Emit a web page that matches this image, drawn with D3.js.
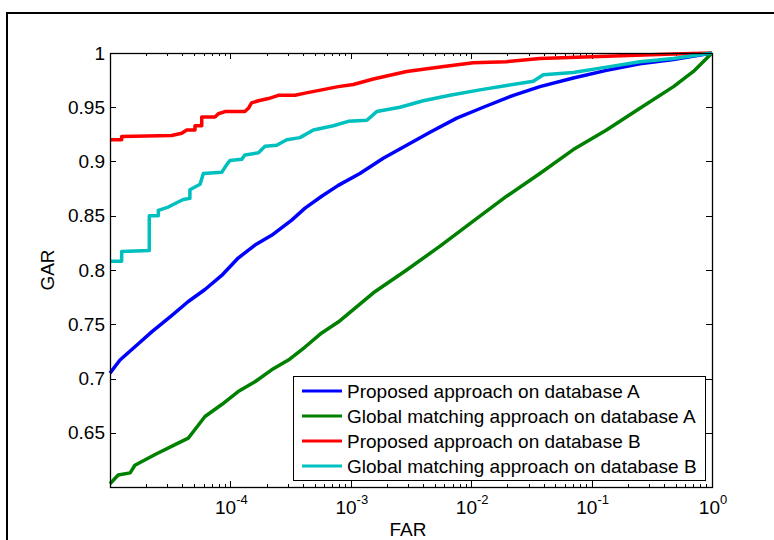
<!DOCTYPE html>
<html>
<head>
<meta charset="utf-8">
<script src="https://cdn.jsdelivr.net/npm/d3@7"></script>
<style>
  body { margin: 0; background: #fff; }
  text { font-family: "Liberation Sans", Arial, sans-serif; fill: #000; }
</style>
</head>
<body>
<div id="roc-plot"></div>
<script>
// FAR / GAR samples
const blueFar = [1e-5, 1.21e-5, 1.72e-5, 2.22e-5, 3.25e-5, 4.47e-5, 6.15e-5, 8.47e-5, 1.16e-4, 1.6e-4, 2.2e-4, 3.23e-4, 4.17e-4, 5.73e-4, 7.87e-4, 1.19e-3, 1.86e-3, 2.91e-3, 4.55e-3, 7.59e-3, 1.26e-2, 2.24e-2, 3.72e-2, 7.05e-2, 0.133, 0.252, 0.479, 1];
const blueGar = [0.705, 0.717, 0.732, 0.743, 0.758, 0.771, 0.782, 0.795, 0.811, 0.823, 0.832, 0.846, 0.857, 0.868, 0.878, 0.889, 0.903, 0.915, 0.927, 0.940, 0.950, 0.961, 0.969, 0.977, 0.984, 0.990, 0.994, 1.0];

const greenFar = [1e-5, 1.17e-5, 1.47e-5, 1.61e-5, 2.37e-5, 3.47e-5, 4.47e-5, 5.08e-5, 6.15e-5, 8.47e-5, 1.16e-4, 1.6e-4, 2.2e-4, 3.03e-4, 4.17e-4, 5.73e-4, 7.87e-4, 1.54e-3, 2.91e-3, 5.51e-3, 1.04e-2, 1.97e-2, 3.72e-2, 7.05e-2, 0.133, 0.252, 0.479, 0.701, 1];
const greenGar = [0.603, 0.611, 0.613, 0.620, 0.630, 0.639, 0.645, 0.653, 0.665, 0.676, 0.688, 0.697, 0.708, 0.717, 0.729, 0.742, 0.752, 0.779, 0.800, 0.822, 0.845, 0.868, 0.889, 0.911, 0.929, 0.949, 0.969, 0.983, 1.0];

const redFar = [1e-5, 1.25e-5, 1.25e-5, 3.25e-5, 3.94e-5, 4.34e-5, 5.08e-5, 5.08e-5, 5.78e-5, 5.78e-5, 7.45e-5, 7.94e-5, 9.02e-5, 1.32e-4, 1.41e-4, 1.5e-4, 1.71e-4, 2.07e-4, 2.5e-4, 3.44e-4, 4.17e-4, 5.73e-4, 7.87e-4, 1.05e-3, 1.54e-3, 2.91e-3, 5.51e-3, 1.04e-2, 1.97e-2, 3.72e-2, 0.133, 0.479, 1];
const redGar = [0.920, 0.920, 0.923, 0.924, 0.926, 0.929, 0.929, 0.933, 0.933, 0.941, 0.941, 0.944, 0.946, 0.946, 0.949, 0.954, 0.956, 0.958, 0.961, 0.961, 0.963, 0.966, 0.969, 0.971, 0.976, 0.983, 0.987, 0.991, 0.992, 0.995, 0.997, 0.999, 1.0];

const cyanFar = [1e-5, 1.25e-5, 1.25e-5, 2.12e-5, 2.12e-5, 2.52e-5, 2.52e-5, 3.05e-5, 3.58e-5, 4.06e-5, 4.61e-5, 4.61e-5, 5.6e-5, 5.96e-5, 8.47e-5, 9.31e-5, 9.93e-5, 1.24e-4, 1.32e-4, 1.71e-4, 1.94e-4, 2.42e-4, 2.94e-4, 3.78e-4, 4.89e-4, 7.16e-4, 9.53e-4, 1.36e-3, 1.64e-3, 2.56e-3, 4.0e-3, 6.67e-3, 1.18e-2, 1.97e-2, 3.28e-2, 3.97e-2, 7.05e-2, 0.133, 0.252, 0.479, 1];
const cyanGar = [0.808, 0.808, 0.817, 0.818, 0.850, 0.850, 0.855, 0.858, 0.862, 0.865, 0.866, 0.874, 0.879, 0.889, 0.890, 0.897, 0.901, 0.902, 0.906, 0.908, 0.914, 0.915, 0.920, 0.922, 0.929, 0.933, 0.937, 0.938, 0.946, 0.950, 0.956, 0.961, 0.966, 0.970, 0.974, 0.980, 0.982, 0.987, 0.992, 0.995, 1.0];

const seriesNames = [
  "Proposed approach on database A",
  "Global matching approach on database A",
  "Proposed approach on database B",
  "Global matching approach on database B"
];
const seriesColors = ["#0000ff", "#008000", "#ff0000", "#00bfbf"];

const xTickValues = [1e-4, 1e-3, 1e-2, 1e-1, 1];
const xTickExps = ["-4", "-3", "-2", "-1", "0"];
const yTickValues = [0.65, 0.7, 0.75, 0.8, 0.85, 0.9, 0.95, 1];

const W = 774, H = 540;
const pLeft = 110, pTop = 53, pRight = 712, pBottom = 487;

const svg = d3.select("#roc-plot")
  .append("svg")
  .attr("width", W)
  .attr("height", H);

// figure frame (runs off the right and bottom edges)
svg.append("rect")
  .attr("x", 7).attr("y", 13)
  .attr("width", 800).attr("height", 600)
  .attr("fill", "#fff")
  .attr("stroke", "#000")
  .attr("stroke-width", 2);

const xScale = d3.scaleLog().domain([1e-5, 1]).range([pLeft, pRight]);
const yScale = d3.scaleLinear().domain([0.6, 1]).range([pBottom, pTop]);

// minor ticks on the log axis
let minor = [];
for (let e = -5; e < 0; e++) {
  for (let m = 2; m <= 9; m++) minor.push(m * Math.pow(10, e));
}

const axes = svg.append("g");

// bottom / top ticks, inward
axes.selectAll(".xminor")
  .data(minor)
  .enter()
  .append("path")
  .attr("d", d => {
    const x = Math.round(xScale(d)) + 0.5;
    return `M${x},${pBottom}V${pBottom - 3}M${x},${pTop}V${pTop + 3}`;
  })
  .attr("stroke", "#000");

axes.selectAll(".xmajor")
  .data(xTickValues)
  .enter()
  .append("path")
  .attr("d", d => {
    const x = Math.round(xScale(d)) + 0.5;
    return `M${x},${pBottom}V${pBottom - 6}M${x},${pTop}V${pTop + 6}`;
  })
  .attr("stroke", "#000");

axes.selectAll(".ymajor")
  .data(yTickValues)
  .enter()
  .append("path")
  .attr("d", d => {
    const y = Math.round(yScale(d)) + 0.5;
    return `M${pLeft},${y}H${pLeft + 6}M${pRight},${y}H${pRight - 6}`;
  })
  .attr("stroke", "#000");

// curves
const line = d3.line()
  .x(d => xScale(d[0]))
  .y(d => yScale(d[1]));

const allSeries = [
  d3.zip(blueFar, blueGar),
  d3.zip(greenFar, greenGar),
  d3.zip(redFar, redGar),
  d3.zip(cyanFar, cyanGar)
];

svg.append("g")
  .selectAll("path")
  .data(allSeries)
  .enter()
  .append("path")
  .attr("d", line)
  .attr("fill", "none")
  .attr("stroke", (d, i) => seriesColors[i])
  .attr("stroke-width", 3.5)
  .attr("stroke-linejoin", "round");

// axes box
svg.append("rect")
  .attr("x", pLeft + 0.5).attr("y", pTop + 0.5)
  .attr("width", pRight - pLeft).attr("height", pBottom - pTop)
  .attr("fill", "none")
  .attr("stroke", "#000")
  .attr("stroke-width", 1.3);

// y tick labels
svg.selectAll(".ylab")
  .data(yTickValues)
  .enter()
  .append("text")
  .attr("x", pLeft - 5)
  .attr("y", d => yScale(d))
  .attr("dy", "0.35em")
  .style("text-anchor", "end")
  .style("font-size", "19px")
  .text(d => d3.format("")(d));

// x tick labels: 10 with superscript
const xl = svg.selectAll(".xlab")
  .data(xTickValues)
  .enter()
  .append("text")
  .attr("x", d => xScale(d) + 1)
  .attr("y", 514)
  .style("text-anchor", "middle")
  .style("font-size", "19px");
xl.append("tspan").text("10");
xl.append("tspan")
  .attr("dy", -10)
  .style("font-size", "13px")
  .text((d, i) => xTickExps[i]);

// axis titles
svg.append("text")
  .attr("x", 408).attr("y", 536)
  .style("text-anchor", "middle")
  .style("font-size", "19px")
  .text("FAR");

svg.append("text")
  .attr("transform", "translate(54,270)rotate(-90)")
  .style("text-anchor", "middle")
  .style("font-size", "19px")
  .text("GAR");

// legend
const legend = svg.append("g");
legend.append("rect")
  .attr("x", 293.5).attr("y", 376.5)
  .attr("width", 412).attr("height", 104)
  .attr("fill", "#fff")
  .attr("stroke", "#000");

const rows = legend.selectAll(".row")
  .data(seriesNames)
  .enter()
  .append("g")
  .attr("transform", (d, i) => "translate(0," + (391 + i * 25) + ")");
rows.append("line")
  .attr("x1", 302).attr("x2", 342)
  .attr("stroke", (d, i) => seriesColors[i])
  .attr("stroke-width", 3);
rows.append("text")
  .attr("x", 347)
  .attr("dy", "0.35em")
  .style("font-size", "19px")
  .text(d => d);
</script>
</body>
</html>
